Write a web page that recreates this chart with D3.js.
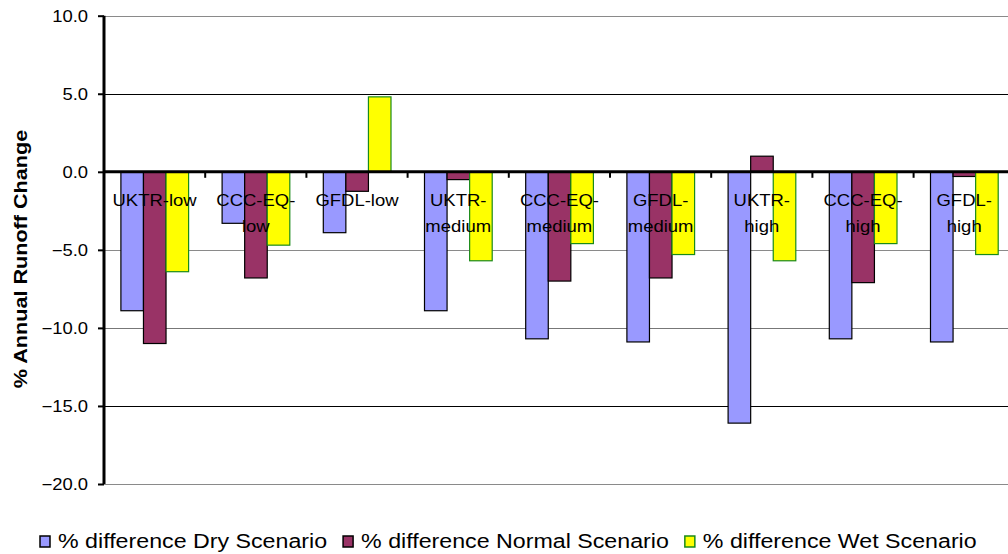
<!DOCTYPE html>
<html>
<head>
<meta charset="utf-8">
<script src="https://cdn.jsdelivr.net/npm/d3@7"></script>
<style>
  html, body { margin: 0; padding: 0; background: #fff; }
  svg { display: block; }
  text { font-family: "Liberation Sans", Arial, Helvetica, sans-serif; fill: #000; }
</style>
</head>
<body>
<svg id="chart" width="1008" height="554"></svg>
<script>
// ---- data ----
const categories = ["UKTR-low", "CCC-EQ-low", "GFDL-low", "UKTR-medium", "CCC-EQ-medium",
                    "GFDL-medium", "UKTR-high", "CCC-EQ-high", "GFDL-high"];
const categoryLines = [["UKTR-low"], ["CCC-EQ-", "low"], ["GFDL-low"], ["UKTR-", "medium"],
                       ["CCC-EQ-", "medium"], ["GFDL-", "medium"], ["UKTR-", "high"],
                       ["CCC-EQ-", "high"], ["GFDL-", "high"]];
const seriesNames = ["% difference Dry Scenario", "% difference Normal Scenario", "% difference Wet Scenario"];
const dryValues    = [-8.9, -3.3, -3.9, -8.9, -10.7, -10.9, -16.1, -10.7, -10.9];
const normalValues = [-11.0, -6.8, -1.25, -0.5, -7.0, -6.8, 1.0, -7.1, -0.3];
const wetValues    = [-6.4, -4.7, 4.8, -5.7, -4.6, -5.3, -5.7, -4.6, -5.3];
const yTicks = [10, 5, 0, -5, -10, -15, -20];
const yTitle = "% Annual Runoff Change";

// ---- styles ----
const fills   = ["#9999FF", "#993366", "#FFFF00"];
const strokes = ["#000000", "#000000", "#1a8a1a"];
const stretch = 1.15;

const svg = d3.select("#chart");
const x0 = d3.scaleBand().domain(categories).range([104, 1014.8]).padding(0);
const x1 = d3.scaleBand().domain([0, 1, 2]).range([16.9, 84.6]).padding(0);
const y = d3.scaleLinear().domain([-20, 10]).range([484, 15.7]);

function stretchText(sel, f) {
  sel.each(function () {
    const len = this.getComputedTextLength();
    this.__len = len * f;
    d3.select(this).attr("textLength", len * f).attr("lengthAdjust", "spacingAndGlyphs");
  });
}

// gridlines
const gridColor = {"10": "#8a8a8a", "5": "#000", "-5": "#8a8a8a", "-10": "#777", "-15": "#000", "-20": "#8a8a8a"};
svg.append("g").selectAll("line").data(yTicks.filter(d => d !== 0)).join("line")
  .attr("x1", 104).attr("x2", 1008)
  .attr("y1", d => Math.round(y(d)) + 0.5).attr("y2", d => Math.round(y(d)) + 0.5)
  .attr("stroke", d => gridColor[String(d)]).attr("stroke-width", 1);

// bars
const series = [dryValues, normalValues, wetValues];
const rows = [];
categories.forEach((c, i) => series.forEach((s, k) => rows.push({c, k, v: s[i]})));
svg.append("g").selectAll("rect").data(rows).join("rect")
  .attr("x", d => x0(d.c) + x1(d.k))
  .attr("width", x1.bandwidth())
  .attr("y", d => y(Math.max(0, d.v)))
  .attr("height", d => Math.abs(y(d.v) - y(0)))
  .attr("fill", d => fills[d.k])
  .attr("stroke", d => strokes[d.k])
  .attr("stroke-width", 1.2);

// y axis
const yAxis = svg.append("g").attr("transform", "translate(104,0)")
  .call(d3.axisLeft(y).tickValues(yTicks).tickSize(6).tickPadding(10).tickFormat(d3.format(".1f")));
yAxis.select(".domain").attr("stroke", "#000").attr("stroke-width", 3).attr("d", `M0,${y(10)}V${y(-20)}`);
yAxis.selectAll(".tick line").attr("stroke", "#000").attr("stroke-width", 2);
yAxis.selectAll(".tick text").attr("font-size", 16).attr("dy", "0.36em")
  .attr("font-family", '"Liberation Sans", Arial, sans-serif').attr("fill", "#000");
yAxis.selectAll(".tick text").call(stretchText, stretch);

// zero (category) axis
const xAxis = svg.append("g").attr("transform", `translate(0,${y(0)})`);
xAxis.append("line").attr("x1", 104).attr("x2", 1008).attr("stroke", "#000").attr("stroke-width", 3);
xAxis.selectAll("line.tk").data(categories.slice(1)).join("line").attr("class", "tk")
  .attr("x1", d => x0(d)).attr("x2", d => x0(d)).attr("y1", 0).attr("y2", 6)
  .attr("stroke", "#000").attr("stroke-width", 2);

// category labels
const lab = svg.append("g").selectAll("text").data(categories).join("text")
  .attr("text-anchor", "middle").attr("font-size", 16.5)
  .attr("transform", d => `translate(${x0(d) + x0.bandwidth() / 2},0)`);
lab.selectAll("tspan").data((d, i) => categoryLines[i]).join("tspan")
  .attr("x", 0).attr("y", (d, j) => y(0) + 34 + j * 26).text(d => d);
lab.selectAll("tspan").each(function () {
  const len = this.getComputedTextLength();
  d3.select(this).attr("textLength", len * 1.12).attr("lengthAdjust", "spacingAndGlyphs");
});

// y title
svg.append("text").attr("transform", `translate(27,259) rotate(-90)`)
  .attr("text-anchor", "middle").attr("font-size", 18).attr("font-weight", "bold")
  .text(yTitle).call(stretchText, 1.2);

// legend
const leg = svg.append("g");
let lx = 40;
seriesNames.forEach((name, k) => {
  leg.append("rect").attr("x", lx).attr("y", 536).attr("width", 10).attr("height", 11)
    .attr("fill", fills[k]).attr("stroke", strokes[k]).attr("stroke-width", 1.5);
  const t = leg.append("text").attr("x", lx + 18).attr("y", 548).attr("font-size", 20).text(name);
  t.call(stretchText, 1.16);
  lx = lx + 18 + t.node().__len + 16;
});
</script>
</body>
</html>
